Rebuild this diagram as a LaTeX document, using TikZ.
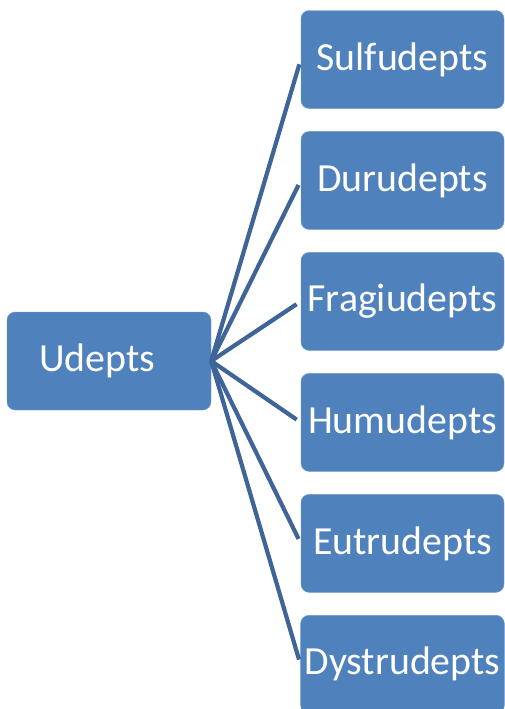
\documentclass[tikz,border=0pt]{standalone}
\usepackage{fontspec}
\setmainfont{Carlito}
\usepackage{tikz}
\usetikzlibrary{positioning}
\definecolor{ordfill}{RGB}{79,129,189}
\definecolor{ordedge}{RGB}{110,155,205}
\definecolor{linkblue}{RGB}{62,100,152}
\tikzset{
  ordernode/.style={draw=ordedge, fill=ordfill, text=white, rounded corners=7pt,
                    minimum width=6.12cm, minimum height=2.94cm, font=\fontsize{34}{40}\selectfont, align=center},
  groupnode/.style={draw=ordedge, fill=ordfill, text=white, rounded corners=7pt,
                    minimum width=6.09cm, minimum height=2.94cm, font=\fontsize{34}{40}\selectfont, align=center},
  link/.style={draw=linkblue, line width=3.6pt, shorten >=0.15cm}
}
\begin{document}
\begin{tikzpicture}
  \useasboundingbox (0,0) rectangle (15.12,-21.27);
  % Suborder
  \node[ordernode] (udepts) at (3.27,-10.83) {Udepts\hspace*{0.7cm}};

  % Great groups
  \node[groupnode] (sulf) at (12.075,-1.785) {Sulfudepts};
  \node[groupnode, below=0.675cm of sulf] (duru) {Durudepts};
  \node[groupnode, below=0.675cm of duru] (frag) {Fragiudepts};
  \node[groupnode, below=0.675cm of frag] (humu) {Humudepts};
  \node[groupnode, below=0.675cm of humu] (eutr) {Eutrudepts};
  \node[groupnode, below=0.675cm of eutr] (dyst) {Dystrudepts};

  \foreach \g in {sulf,duru,frag,humu,eutr,dyst}{
    \draw[link] (udepts.east) -- (\g.west);
  }
\end{tikzpicture}
\end{document}
